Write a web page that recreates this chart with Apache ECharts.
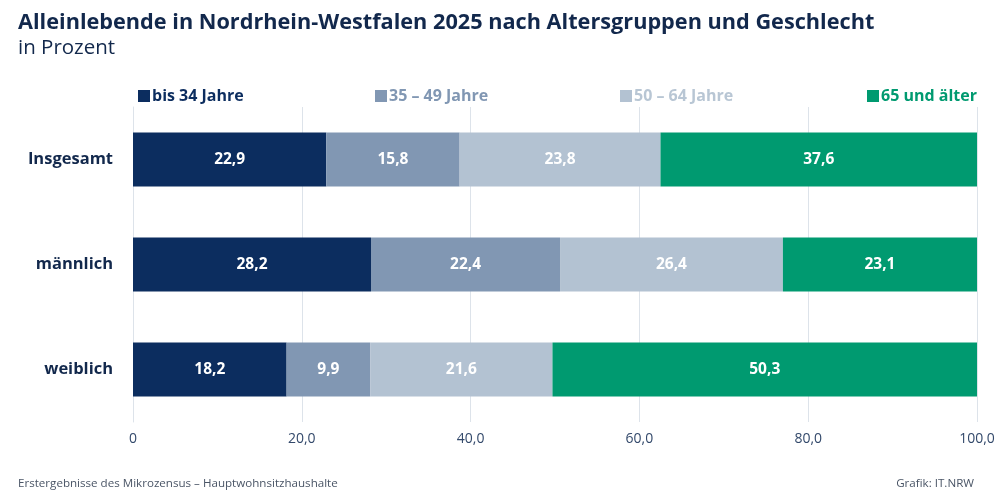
<!DOCTYPE html>
<html>
<head>
<meta charset="utf-8">
<script src="https://cdn.jsdelivr.net/npm/echarts@6/dist/echarts.min.js"></script>
<style>
  html, body { margin: 0; padding: 0; background: #fff; }
  #main { width: 999px; height: 500px; }
</style>
</head>
<body>
<div id="main"></div>
<script>
// Geschlecht (von oben nach unten)
var groups = ['Insgesamt', 'männlich', 'weiblich'];
var seriesNames = ['bis 34 Jahre', '35 – 49 Jahre', '50 – 64 Jahre', '65 und älter'];
var bis34 = [22.9, 28.2, 18.2];
var von35bis49 = [15.8, 22.4, 9.9];
var von50bis64 = [23.8, 26.4, 21.6];
var ab65 = [37.6, 23.1, 50.3];
var xTicks = [0, 20, 40, 60, 80, 100];

var colors = ['#0c2d5f', '#8197b3', '#b3c2d2', '#009a70'];
var legendText = ['#0c2d5f', '#8197b3', '#b8c6d4', '#009a70'];
var legendLeft = [133, 370, 615, 862];
var fmt = function (v) { return v.toFixed(1).replace('.', ','); };

var chart = echarts.init(document.getElementById('main'));

var values = [bis34, von35bis49, von50bis64, ab65];
var series = seriesNames.map(function (name, i) {
  return {
    name: name,
    type: 'bar',
    stack: 'total',
    barWidth: 54,
    data: values[i],
    itemStyle: { color: colors[i] },
    label: {
      show: true,
      color: '#fff',
      fontFamily: 'Open Sans',
      fontWeight: 'bold',
      fontSize: 15.5,
      formatter: function (p) { return fmt(p.value); }
    },
    emphasis: { disabled: true }
  };
});

var legends = seriesNames.map(function (name, i) {
  return {
    data: [name],
    left: legendLeft[i],
    top: 83,
    icon: 'rect',
    itemWidth: 12,
    itemHeight: 12,
    itemGap: 4,
    selectedMode: false,
    textStyle: {
      color: legendText[i],
      fontFamily: 'Open Sans',
      fontWeight: 'bold',
      fontSize: 16,
      padding: [0, 0, 0, -3]
    }
  };
});

var option = {
  animation: false,
  color: colors,
  title: [
    {
      text: 'Alleinlebende in Nordrhein-Westfalen 2025 nach Altersgruppen und Geschlecht',
      left: 13, top: 7,
      textStyle: { color: '#12284c', fontFamily: 'Open Sans', fontWeight: 'bold', fontSize: 21.7 }
    },
    {
      text: 'in Prozent',
      left: 13, top: 33,
      textStyle: { color: '#12284c', fontFamily: 'Open Sans', fontWeight: 'normal', fontSize: 20.5 }
    },
    {
      text: 'Erstergebnisse des Mikrozensus – Hauptwohnsitzhaushalte',
      left: 13, top: 473,
      textStyle: { color: '#4a5566', fontFamily: 'Open Sans', fontWeight: 'normal', fontSize: 11.6 }
    },
    {
      text: 'Grafik: IT.NRW',
      right: 20, top: 473,
      textStyle: { color: '#4a5566', fontFamily: 'Open Sans', fontWeight: 'normal', fontSize: 11.6 }
    }
  ],
  legend: legends,
  grid: { left: 133, right: 22, top: 107, bottom: 78, containLabel: false },
  xAxis: {
    type: 'value',
    min: 0, max: 100, interval: 20,
    axisLine: { show: false },
    axisTick: { show: false },
    splitLine: { lineStyle: { color: '#dde3ea', width: 1 } },
    axisLabel: {
      color: '#33496b',
      fontFamily: 'Open Sans',
      fontSize: 14,
      margin: 10,
      formatter: function (v) { return v === 0 ? '0' : fmt(v); }
    }
  },
  yAxis: {
    type: 'category',
    data: groups,
    inverse: true,
    axisLine: { show: true, lineStyle: { color: '#dde3ea' } },
    axisTick: { show: false },
    axisLabel: {
      color: '#12284c',
      fontFamily: 'Open Sans',
      fontWeight: 'bold',
      fontSize: 16.5,
      margin: 20
    }
  },
  series: series
};

chart.setOption(option);
</script>
</body>
</html>
